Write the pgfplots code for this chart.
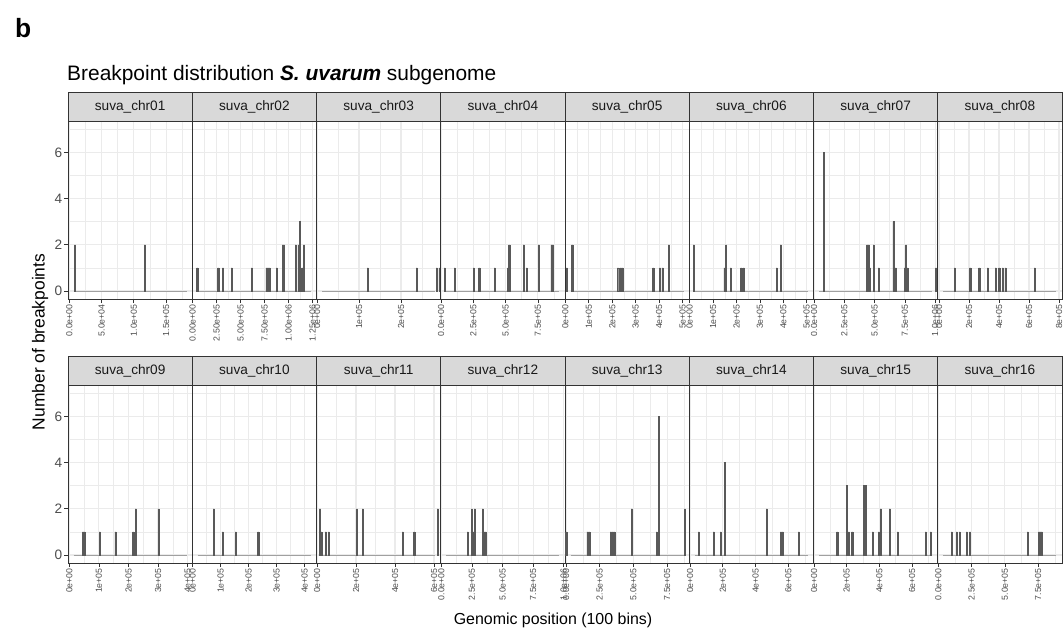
\documentclass[border=0pt]{standalone}
\usepackage{pgfplots}
\pgfplotsset{compat=1.18}
\usepackage{fontspec}
\setmainfont{Liberation Sans}

\definecolor{barc}{HTML}{595959}
\definecolor{stripc}{HTML}{D9D9D9}
\definecolor{borderc}{HTML}{333333}
\definecolor{gridc}{HTML}{EBEBEB}
\definecolor{tickc}{HTML}{4D4D4D}
\definecolor{zeroc}{HTML}{A0A0A0}

\pgfplotsset{
  panel/.style={
    scale only axis, width=124.25bp, height=178bp,
    anchor=south west,
    ymin=-0.35, ymax=7.35,
    ytick={0,2,4,6}, minor ytick={1,3,5,7},
    scaled x ticks=false,
    grid=both,
    major grid style={line width=1.1bp, color=gridc},
    minor grid style={line width=0.55bp, color=gridc},
    axis line style={draw=borderc, line width=0.8bp},
    tick align=outside, tick pos=left,
    major tick length=4bp, minor tick length=0pt,
    xtick style={draw=borderc, line width=0.8bp},
    ytick style={draw=none},
    yticklabels={},
    xticklabel style={rotate=90, anchor=east, font=\fontsize{8.8}{9}\selectfont, text=tickc, inner sep=1bp},
    yticklabel style={font=\fontsize{13.7}{14}\selectfont, text=tickc, inner sep=1.5bp},
    clip=false,
  },
  leftpanel/.style={
    yticklabels={0,2,4,6},
    ytick style={draw=borderc, line width=0.8bp},
  },
  bars/.style={ybar, bar width=1.3bp, fill=barc, draw=barc, line width=0.45bp},
}

% one facet: #1 axis options, #2 strip title, #3 breakpoint counts per bin
\newcommand{\panel}[3]{%
  \begin{axis}[panel,#1]
    \draw[zeroc, line width=0.8bp]
      ({rel axis cs:0.0455,0}|-{axis cs:0,0}) -- ({rel axis cs:0.9545,0}|-{axis cs:0,0});
    \addplot[bars] coordinates {#3};
    \draw[fill=stripc, draw=borderc, line width=0.8bp]
      (rel axis cs:0,1) rectangle ([yshift=28.5bp]rel axis cs:1,1);
    \node[font=\fontsize{13.7}{14}\selectfont, text=black!90, inner sep=0pt]
      at ([yshift=14.25bp]rel axis cs:0.5,1) {#2};
  \end{axis}}

\newcommand{\rowA}{330.9bp}
\newcommand{\rowB}{66.9bp}

\begin{document}
\begin{tikzpicture}
\path[use as bounding box] (0,0) rectangle (1064bp,630bp);

% ---- first row ----
\panel{at={(68bp,\rowA)}, leftpanel, xmin=-2012, xmax=190327,
  xtick={0,50000,100000,150000}, xticklabels={0.0e+00,5.0e+04,1.0e+05,1.5e+05},
  minor xtick={25000,75000,125000,175000}}
  {suva\_chr01}
  {(8800,2) (117000,2)}

\panel{at={(192.25bp,\rowA)}, xmin=-4688, xmax=1289625,
  xtick={0,250000,500000,750000,1000000,1250000},
  xticklabels={0.00e+00,2.50e+05,5.00e+05,7.50e+05,1.00e+06,1.25e+06},
  minor xtick={125000,375000,625000,875000,1125000}}
  {suva\_chr02}
  {(46900,1) (265600,1) (315600,1) (407300,1) (615600,1) (768800,1) (784400,1)
   (800000,1) (876100,1) (938600,2) (951100,2) (1074000,2) (1102100,2)
   (1115700,3) (1141700,1) (1159400,2)}

\panel{at={(316.5bp,\rowA)}, xmin=-1190, xmax=294650,
  xtick={0,100000,200000}, xticklabels={0e+00,1e+05,2e+05},
  minor xtick={50000,150000,250000}}
  {suva\_chr03}
  {(120950,1) (237620,1) (285240,1) (291670,1)}

\panel{at={(440.75bp,\rowA)}, xmin=-1935, xmax=959760,
  xtick={0,250000,500000,750000}, xticklabels={0.0e+00,2.5e+05,5.0e+05,7.5e+05},
  minor xtick={125000,375000,625000,875000}}
  {suva\_chr04}
  {(29400,1) (106800,1) (253900,1) (295700,1) (416400,1) (518600,1) (528600,2)
   (640900,2) (664100,1) (757000,2) (856000,2) (866900,2)}

\panel{at={(565bp,\rowA)}, xmin=-2000, xmax=528700,
  xtick={0,100000,200000,300000,400000,500000},
  xticklabels={0e+00,1e+05,2e+05,3e+05,4e+05,5e+05},
  minor xtick={50000,150000,250000,350000,450000}}
  {suva\_chr05}
  {(5100,1) (28900,2) (224700,1) (236200,1) (243800,1) (375300,1) (403400,1)
   (414900,1) (441700,2)}

\panel{at={(689.25bp,\rowA)}, xmin=-1923, xmax=529100,
  xtick={0,100000,200000,300000,400000,500000},
  xticklabels={0e+00,1e+05,2e+05,3e+05,4e+05,5e+05},
  minor xtick={50000,150000,250000,350000,450000}}
  {suva\_chr06}
  {(17100,2) (148700,1) (155100,2) (175700,1) (220100,1) (230800,1) (372300,1)
   (389400,2)}

\panel{at={(813.5bp,\rowA)}, xmin=-4125, xmax=1021000,
  xtick={0,250000,500000,750000,1000000},
  xticklabels={0.0e+00,2.5e+05,5.0e+05,7.5e+05,1.0e+06},
  minor xtick={125000,375000,625000,875000}}
  {suva\_chr07}
  {(80000,6) (439800,2) (451300,2) (462100,1) (493400,2) (534700,1) (656000,3)
   (674100,1) (749200,1) (759100,2) (769000,1) (1006600,1)}

\panel{at={(937.75bp,\rowA)}, xmin=-8333, xmax=820000,
  xtick={0,200000,400000,600000,800000},
  xticklabels={0e+00,2e+05,4e+05,6e+05,8e+05},
  minor xtick={100000,300000,500000,700000}}
  {suva\_chr08}
  {(105300,1) (208000,1) (268000,1) (325300,1) (378700,1) (401300,1) (425300,1)
   (443300,1) (638700,1)}

% ---- second row ----
\panel{at={(68bp,\rowB)}, leftpanel, xmin=-4391, xmax=415300,
  xtick={0,100000,200000,300000,400000},
  xticklabels={0e+00,1e+05,2e+05,3e+05,4e+05},
  minor xtick={50000,150000,250000,350000}}
  {suva\_chr09}
  {(46300,1) (51300,1) (103000,1) (156100,1) (216200,1) (224600,2) (301300,2)}

\panel{at={(192.25bp,\rowB)}, xmin=-1607, xmax=442100,
  xtick={0,100000,200000,300000,400000},
  xticklabels={0e+00,1e+05,2e+05,3e+05,4e+05},
  minor xtick={50000,150000,250000,350000}}
  {suva\_chr10}
  {(75300,2) (107500,1) (153900,1) (233900,1)}

\panel{at={(316.5bp,\rowB)}, xmin=-2564, xmax=634600,
  xtick={0,200000,400000,600000}, xticklabels={0e+00,2e+05,4e+05,6e+05},
  minor xtick={100000,300000,500000}}
  {suva\_chr11}
  {(15400,2) (22100,1) (45100,1) (60000,1) (204100,2) (234900,2) (440000,1)
   (498400,1) (619500,2)}

\panel{at={(440.75bp,\rowB)}, xmin=-4494, xmax=1010600,
  xtick={0,250000,500000,750000,1000000},
  xticklabels={0.0e+00,2.5e+05,5.0e+05,7.5e+05,1.0e+06},
  minor xtick={125000,375000,625000,875000}}
  {suva\_chr12}
  {(216500,1) (249200,2) (261400,1) (273700,2) (339100,2) (351300,1) (363600,1)}

\panel{at={(565bp,\rowB)}, xmin=-7418, xmax=914300,
  xtick={0,250000,500000,750000}, xticklabels={0.0e+00,2.5e+05,5.0e+05,7.5e+05},
  minor xtick={125000,375000,625000,875000}}
  {suva\_chr13}
  {(2200,1) (159500,1) (172800,1) (332300,1) (344900,1) (357500,1) (488100,2)
   (673600,1) (687600,6) (881300,2)}

\panel{at={(689.25bp,\rowB)}, xmin=-4574, xmax=753100,
  xtick={0,200000,400000,600000}, xticklabels={0e+00,2e+05,4e+05,6e+05},
  minor xtick={100000,300000,500000,700000}}
  {suva\_chr14}
  {(53700,1) (145100,1) (187800,1) (212200,4) (468300,2) (554900,1) (565900,1)
   (663500,1)}

\panel{at={(813.5bp,\rowB)}, xmin=-3058, xmax=756900,
  xtick={0,200000,400000,600000}, xticklabels={0e+00,2e+05,4e+05,6e+05},
  minor xtick={100000,300000,500000,700000}}
  {suva\_chr15}
  {(142500,1) (200600,3) (212800,1) (234200,1) (304600,3) (313100,3) (359600,1)
   (396300,1) (407900,2) (463000,2) (511900,1) (683800,1) (714300,1)}

\panel{at={(937.75bp,\rowB)}, xmin=-4129, xmax=928700,
  xtick={0,250000,500000,750000}, xticklabels={0.0e+00,2.5e+05,5.0e+05,7.5e+05},
  minor xtick={125000,375000,625000,875000}}
  {suva\_chr16}
  {(101400,1) (138900,1) (161400,1) (214000,1) (238000,1) (672000,1) (756100,1)
   (767300,1) (777100,1)}

% ---- titles ----
\node[anchor=base west, inner sep=0pt, font=\fontsize{26.5}{28}\selectfont\bfseries]
  at (15bp,592.7bp) {b};
\node[anchor=base west, inner sep=0pt, font=\fontsize{21}{23}\selectfont]
  at (67bp,549bp) {Breakpoint distribution \textbf{\textit{S. uvarum}} subgenome};
\node[anchor=base, inner sep=0pt, font=\fontsize{16}{18}\selectfont]
  at (553bp,6bp) {Genomic position (100 bins)};
\node[rotate=90, inner sep=0pt, font=\fontsize{17.5}{19}\selectfont]
  at (40bp,288bp) {Number of breakpoints};
\end{tikzpicture}
\end{document}
